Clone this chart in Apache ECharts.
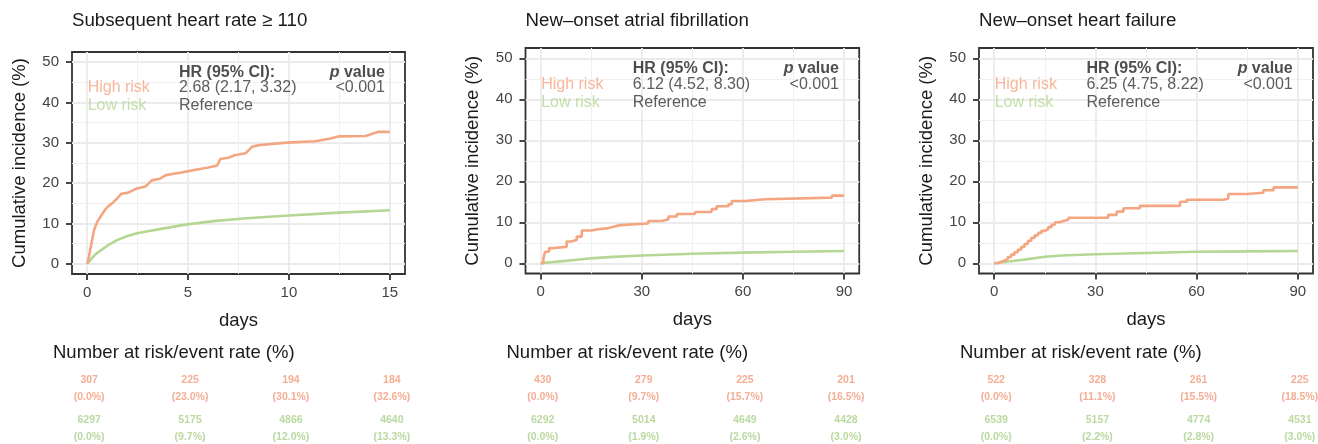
<!DOCTYPE html>
<html>
<head>
<meta charset="utf-8">
<script src="https://cdn.jsdelivr.net/npm/echarts@6/dist/echarts.min.js"></script>
<style>
  html, body { margin: 0; padding: 0; background: #fff; }
  #chart { width: 1318px; height: 444px; }
</style>
</head>
<body>
<div id="chart"></div>
<script>
// ---- data ----
const panelTitles = ['Subsequent heart rate \u2265 110', 'New\u2013onset atrial fibrillation', 'New\u2013onset heart failure'];
const xMaxes = [15, 90, 90];
const xTicks = [[0, 5, 10, 15], [0, 30, 60, 90], [0, 30, 60, 90]];
const yTicks = [0, 10, 20, 30, 40, 50];

// cumulative incidence (%) vs days
const hrHigh = [[0,0],[0.08,1.5],[0.15,3.5],[0.25,6],[0.35,8.5],[0.5,10.4],[0.7,12],[0.9,13.5],[1.1,14.5],[1.3,15.3],
  [1.5,16.3],[1.7,17.4],[2.0,17.6],[2.47,18.7],[2.9,19.2],[3.2,20.7],[3.6,21.1],[3.9,22.0],[4.6,22.6],[5.45,23.4],
  [6.0,23.9],[6.45,24.4],[6.6,26.0],[7.0,26.3],[7.3,26.9],[7.85,27.4],[8.17,29.0],[8.5,29.4],[9.3,29.8],[10.1,30.1],
  [11.3,30.4],[12.0,31.0],[12.5,31.6],[13.8,31.7],[14.1,32.2],[14.4,32.7],[15,32.7]];
const hrLow = [[0,0],[0.2,1.2],[0.4,2.3],[0.66,3.3],[1.0,4.5],[1.48,5.9],[2.0,6.9],[2.47,7.6],[3.0,8.1],[3.8,8.8],
  [4.95,9.8],[6.27,10.6],[7.9,11.3],[10,12.0],[12.5,12.7],[15,13.3]];
const afHigh = [[0,0],[0.8,1.2],[1.3,2.8],[2.5,3.7],[4,4.0],[7.7,5.3],[9,5.7],[10.7,6.5],[12.2,8.0],[15.1,8.3],[17,8.5],
  [19.6,8.9],[21.6,9.3],[23.5,9.7],[31.9,10.3],[35.9,10.7],[37.9,11.4],[40.4,12.0],[45.8,12.5],[50.7,13.2],[52.2,13.9],
  [55.7,14.4],[56.7,15.2],[60.6,15.6],[66.6,16.0],[86.4,16.5],[90,16.5]];
const afLow = [[0,0],[5,0.4],[10,0.8],[15,1.2],[20,1.5],[30,1.9],[45,2.3],[60,2.6],[75,2.8],[90,3.0]];
const hfHigh = [[0,0],[1,0.3],[2,0.6],[3,1.0],[4,1.5],[5,2.1],[6,2.7],[7,3.3],[8,4.0],[9,4.7],[10,5.5],[11,6.2],
  [12,6.8],[13,7.4],[14,7.9],[15,8.3],[16,8.8],[17,9.4],[18,10.0],[19.5,10.3],[20.5,10.6],[22,11.1],[33.8,11.8],
  [36.3,12.6],[38.3,13.4],[43.2,14.0],[55.1,15.0],[57.1,15.5],[68,15.8],[69.4,16.9],[74.9,17.2],[79.8,17.8],[82.8,18.5],[90,18.5]];
const hfLow = [[0,0],[5,0.5],[10,1.0],[15,1.6],[20,1.9],[30,2.2],[45,2.5],[60,2.8],[75,2.9],[90,3.0]];
const highCurves = [hrHigh, afHigh, hfHigh];
const lowCurves = [hrLow, afLow, hfLow];
const highStep = [false, 'end', 'end'];

const hrText = ['2.68 (2.17, 3.32)', '6.12 (4.52, 8.30)', '6.25 (4.75, 8.22)'];
const pText = ['<0.001', '<0.001', '<0.001'];

// number at risk / event rate
const riskHighN = [[307, 225, 194, 184], [430, 279, 225, 201], [522, 328, 261, 225]];
const riskHighPct = [['0.0', '23.0', '30.1', '32.6'], ['0.0', '9.7', '15.7', '16.5'], ['0.0', '11.1', '15.5', '18.5']];
const riskLowN = [[6297, 5175, 4866, 4640], [6292, 5014, 4649, 4428], [6539, 5157, 4774, 4531]];
const riskLowPct = [['0.0', '9.7', '12.0', '13.3'], ['0.0', '1.9', '2.6', '3.0'], ['0.0', '2.2', '2.8', '3.0']];

// ---- styling / layout ----
const FONT = '"Liberation Sans", Arial, sans-serif';
const HIGH = '#f4a582';
const LOW = '#b5d794';
const HIGH_TXT = '#f09a78';
const LOW_TXT = '#a9d089';
const plotRects = [
  { left: 72, top: 52, width: 333, height: 222 },
  { left: 525.5, top: 48, width: 333.7, height: 225.5 },
  { left: 979, top: 48, width: 334, height: 225.5 },
];

const grid = [], xAxis = [], yAxis = [], series = [], title = [];

plotRects.forEach((r, i) => {
  const xMax = xMaxes[i];
  const xMin = -0.05 * xMax, xTop = 1.05 * xMax;

  grid.push({ ...r, show: true, borderColor: '#333', borderWidth: 1.8, backgroundColor: '#fff' });
  grid.push({ left: r.left + 2, top: 369, width: r.width, height: 84 });

  const tickStyle = { show: true, length: 6, lineStyle: { color: '#333', width: 1.8 } };
  xAxis.push({
    gridIndex: 2 * i, type: 'value', min: xMin, max: xTop, splitNumber: 3,
    axisLine: { show: false, onZero: false },
    axisTick: { ...tickStyle, customValues: xTicks[i] },
    axisLabel: { customValues: xTicks[i], fontSize: 15, color: '#444', margin: 11, fontFamily: FONT },
    splitLine: { show: true, lineStyle: { color: '#ebebeb', width: 1.8 } },
    minorTick: { show: false, splitNumber: 2 },
    minorSplitLine: { show: true, lineStyle: { color: '#f0f0f0', width: 1 } },
    name: 'days', nameLocation: 'middle', nameGap: 37,
    nameTextStyle: { fontSize: 18.5, color: '#1a1a1a', fontFamily: FONT },
  });
  yAxis.push({
    gridIndex: 2 * i, type: 'value', min: -2.5, max: 52.5, splitNumber: 5,
    axisLine: { show: false, onZero: false },
    axisTick: { ...tickStyle, customValues: yTicks },
    axisLabel: { customValues: yTicks, fontSize: 15, color: '#444', margin: 13, fontFamily: FONT },
    splitLine: { show: true, lineStyle: { color: '#ebebeb', width: 1.8 } },
    minorTick: { show: false, splitNumber: 2 },
    minorSplitLine: { show: true, lineStyle: { color: '#f0f0f0', width: 1 } },
    name: 'Cumulative incidence (%)', nameLocation: 'middle', nameGap: 43, nameRotate: 90,
    nameTextStyle: { fontSize: 18.5, color: '#1a1a1a', fontFamily: FONT },
  });
  // risk table axes (hidden)
  xAxis.push({ gridIndex: 2 * i + 1, type: 'value', min: xMin, max: xTop, show: false });
  yAxis.push({ gridIndex: 2 * i + 1, type: 'value', min: 0, max: 2, show: false });

  const ax = { xAxisIndex: 2 * i, yAxisIndex: 2 * i };
  series.push({
    type: 'line', ...ax, data: lowCurves[i], showSymbol: false, symbol: 'none', silent: true,
    lineStyle: { color: LOW, width: 2.6 }, z: 3,
  });
  series.push({
    type: 'line', ...ax, data: highCurves[i], step: highStep[i], showSymbol: false, symbol: 'none', silent: true,
    lineStyle: { color: HIGH, width: 2.6 }, z: 4,
  });

  // in-panel annotation text, placed in data coords
  const txt = { fontSize: 16, fontFamily: FONT, color: '#333' };
  const colHR = 0.302 * xMax, colP = 0.985 * xMax;
  const rowY = [47.5, 43.6, 39.2];
  const lab = (x, y, text, extra, right) => ({
    value: [x, y],
    label: { show: true, position: right ? 'left' : 'right', distance: 0, formatter: text, ...txt, ...extra },
  });
  const hidden = { color: 'rgba(0,0,0,0)' };
  series.push({
    type: 'scatter', ...ax, symbolSize: 1, itemStyle: hidden, silent: true, z: 5,
    data: [
      lab(0, rowY[1], 'High risk', { color: HIGH }),
      lab(0, rowY[2], 'Low risk', { color: LOW }),
      lab(colHR, rowY[0], 'HR (95% CI):', { fontWeight: 'bold', color: '#222' }),
      lab(colHR, rowY[1], hrText[i]),
      lab(colHR, rowY[2], 'Reference'),
      lab(colP, rowY[0], '{i|p} value', { fontWeight: 'bold', color: '#222',
        rich: { i: { fontStyle: 'italic', fontWeight: 'bold', fontSize: 16, fontFamily: FONT, color: '#222' } } }, true),
      lab(colP, rowY[1], pText[i], {}, true),
    ],
  });

  // risk table
  const rk = { xAxisIndex: 2 * i + 1, yAxisIndex: 2 * i + 1 };
  const rowLabel = color => ({ show: true, position: 'inside', fontSize: 10.5, lineHeight: 17, fontWeight: 'bold', color, fontFamily: FONT });
  series.push({
    type: 'scatter', ...rk, symbolSize: 1, itemStyle: hidden, silent: true,
    label: { ...rowLabel(HIGH_TXT), formatter: p => `${riskHighN[i][p.dataIndex]}\n(${riskHighPct[i][p.dataIndex]}%)` },
    data: xTicks[i].map(t => [t, 1.48]),
  });
  series.push({
    type: 'scatter', ...rk, symbolSize: 1, itemStyle: hidden, silent: true,
    label: { ...rowLabel(LOW_TXT), formatter: p => `${riskLowN[i][p.dataIndex]}\n(${riskLowPct[i][p.dataIndex]}%)` },
    data: xTicks[i].map(t => [t, 0.4]),
  });

  title.push({
    text: panelTitles[i], left: r.left, top: 11, padding: 0,
    textStyle: { fontSize: 18.7, fontWeight: 'normal', color: '#1a1a1a', fontFamily: FONT },
  });
  title.push({
    text: 'Number at risk/event rate (%)', left: r.left - 19, top: 343, padding: 0,
    textStyle: { fontSize: 18.5, fontWeight: 'normal', color: '#1a1a1a', fontFamily: FONT },
  });
});

const chart = echarts.init(document.getElementById('chart'), null, { renderer: 'canvas' });
chart.setOption({
  backgroundColor: '#fff',
  animation: false,
  title, grid, xAxis, yAxis, series,
});
</script>
</body>
</html>
